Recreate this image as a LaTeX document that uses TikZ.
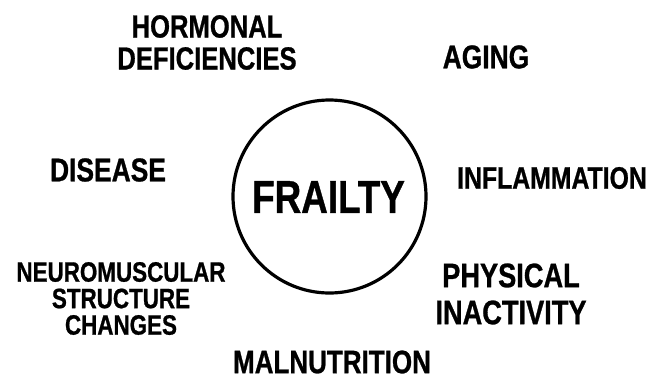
\documentclass[tikz,border=0pt]{standalone}
\usepackage{fontspec}
\setmainfont{Liberation Sans}[FakeStretch=0.8, BoldFeatures={FakeBold=0.8}]
\begin{document}
\begin{tikzpicture}[x=1pt,y=-1pt,
  factor/.style={inner sep=0pt, align=center, font=\bfseries},
  hub/.style={circle, draw=black, line width=3.2pt, minimum size=193pt, inner sep=0pt}]
  % canvas
  \fill[white] (0,0) rectangle (654,380);
  \useasboundingbox (0,0) rectangle (654,380);

  % central circle and its label
  \node[hub] (ring) at (329.5,196.5) {};
  \node[factor, font=\bfseries\fontsize{46}{46}\selectfont] (frailty) at (328.5,197) {FRAILTY};

  % surrounding factors
  \node[factor, font=\bfseries\fontsize{32}{32}\selectfont] (hormonal) at (207,42.5) {HORMONAL\\DEFICIENCIES};
  \node[factor, font=\bfseries\fontsize{33}{33}\selectfont] (aging) at (486,57) {AGING};
  \node[factor, font=\bfseries\fontsize{33}{33}\selectfont] (disease) at (108,170) {DISEASE};
  \node[factor, font=\bfseries\fontsize{31}{31}\selectfont] (inflam) at (552,178) {INFLAMMATION};
  \node[factor, font=\bfseries\fontsize{28}{26.5}\selectfont] (neuro) at (121,298.5) {NEUROMUSCULAR\\STRUCTURE\\CHANGES};
  \node[factor, font=\bfseries\fontsize{34}{37}\selectfont] (physical) at (511,294) {PHYSICAL\\INACTIVITY};
  \node[factor, font=\bfseries\fontsize{32.5}{32.5}\selectfont] (malnut) at (332,362) {MALNUTRITION};
\end{tikzpicture}
\end{document}
